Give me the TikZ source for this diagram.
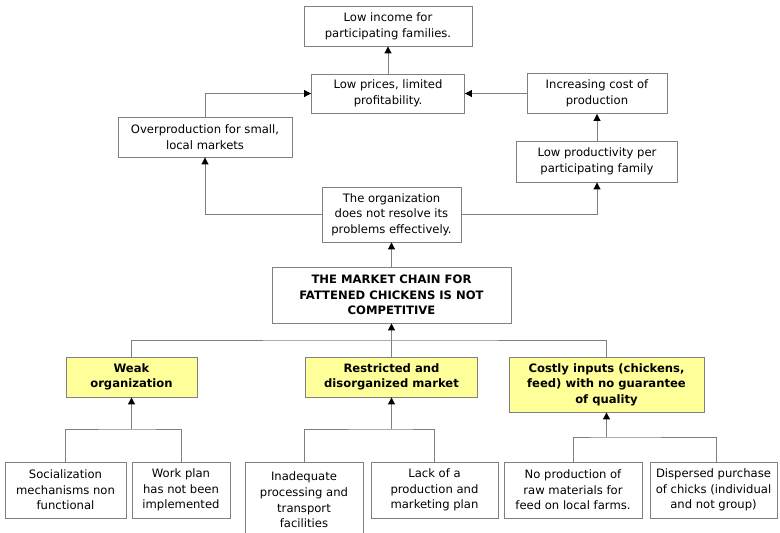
\documentclass[tikz,border=0pt]{standalone}
\usepackage{fontspec}
\setmainfont{DejaVu Sans}
\usetikzlibrary{arrows.meta}

\definecolor{linegray}{HTML}{808080}
\definecolor{keyyellow}{HTML}{FFFF99}

\tikzset{
  box/.style = {draw = linegray, fill = white, align = center, inner sep = 1pt, line width = 0.9pt,
                font = \fontsize{11.6}{15.6}\selectfont},
  keybox/.style = {box, fill = keyyellow, font = \fontsize{11.6}{15.6}\selectfont\bfseries},
  link/.style = {draw = linegray, line width = 1pt},
  arr/.style = {link, -{Triangle[length = 7pt, width = 7pt, black]}}
}

\begin{document}
\begin{tikzpicture}[x=1pt,y=-1pt]
		\useasboundingbox (0, 0) rectangle (780, 533);
		%%%%%%%%%%%%% effects
		\node [box, minimum width = 168pt, minimum height = 40pt] (income) at (388, 26) {Low income for\\participating families.};
		\node [box, minimum width = 153pt, minimum height = 39pt] (prices) at (388, 93.5) {Low prices, limited\\profitability.};
		\node [box, minimum width = 174pt, minimum height = 40pt] (overprod) at (205, 137) {Overproduction for small,\\local markets};
		\node [box, minimum width = 140pt, minimum height = 40pt] (costinc) at (597, 93.5) {Increasing cost of\\production};
		\node [box, minimum width = 161pt, minimum height = 41pt] (lowprod) at (597, 161.5) {Low productivity per\\participating family};
		\node [box, minimum width = 139pt, minimum height = 55pt] (org) at (391.5, 214.5) {The organization\\does not resolve its\\problems effectively.};
		%%%%%%%%%%%%% core problem
		\node [box, minimum width = 239pt, minimum height = 56pt, font = \fontsize{11.6}{15.6}\selectfont\bfseries] (main) at (391.5, 295) {THE MARKET CHAIN FOR\\FATTENED CHICKENS IS NOT\\COMPETITIVE};
		%%%%%%%%%%%%% causes
		\node [keybox, minimum width = 131pt, minimum height = 40pt] (weak) at (131.5, 377) {Weak\\organization};
		\node [keybox, minimum width = 172pt, minimum height = 40pt] (restr) at (391.5, 377) {Restricted and\\disorganized market};
		\node [keybox, minimum width = 195pt, minimum height = 55pt] (costly) at (606.5, 384.5) {Costly inputs (chickens,\\feed) with no guarantee\\of quality};
		%%%%%%%%%%%%% sub-causes
		\node [box, minimum width = 121pt, minimum height = 56pt] (social) at (65.5, 490) {Socialization\\mechanisms non\\functional};
		\node [box, minimum width = 98pt, minimum height = 56pt] (workplan) at (181, 490) {Work plan\\has not been\\implemented};
		\node [box, minimum width = 118pt, minimum height = 76pt] (inadeq) at (304, 500) {Inadequate\\processing and\\transport\\facilities};
		\node [box, minimum width = 127pt, minimum height = 56pt] (lack) at (434.5, 490) {Lack of a\\production and\\marketing plan};
		\node [box, minimum width = 138pt, minimum height = 56pt] (noprod) at (573, 490) {No production of\\raw materials for\\feed on local farms.};
		\node [box, minimum width = 127pt, minimum height = 56pt] (dispersed) at (713.5, 490) {Dispersed purchase\\of chicks (individual\\and not group)};
		%%%%%%%%%%%%%
		\coordinate (topbar) at (391.5, 340);
		\coordinate (weakbar) at (131.5, 429);
		\coordinate (restrbar) at (391.5, 429);
		\coordinate (costbar) at (606.5, 437);
		%%%%%%%%%%%%%
		\draw [arr] (prices) to (income);
		\draw [arr] (overprod.north) |- (prices.west);
		\draw [arr] (costinc) to (prices);
		\draw [arr] (lowprod) to (costinc);
		\draw [arr] (org.west) -| (overprod.south);
		\draw [arr] (org.east) -| (lowprod.south);
		\draw [arr] (main) to (org);
		\draw [link] (weak.north) |- (topbar) -| (costly.north);
		\draw [arr] (restr.north) to (main.south);
		\draw [link] (social.north) |- (weakbar) -| (workplan.north);
		\draw [arr] (weakbar) to (weak.south);
		\draw [link] (inadeq.north) |- (restrbar) -| (lack.north);
		\draw [arr] (restrbar) to (restr.south);
		\draw [link] (noprod.north) |- (costbar) -| ([xshift = 3pt]dispersed.north);
		\draw [arr] (costbar) to (costly.south);
	\end{tikzpicture}
\end{document}
